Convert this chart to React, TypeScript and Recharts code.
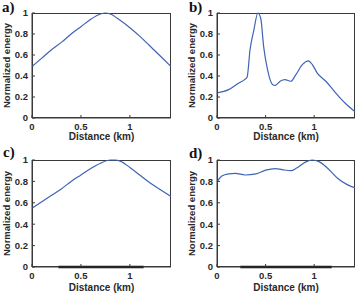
import { Line, LineChart, XAxis, YAxis } from 'recharts'

// panel a
const distA = [0, 0.1, 0.2, 0.3, 0.4, 0.5, 0.6, 0.7, 0.75, 0.8, 0.9, 1.0, 1.1, 1.2, 1.3, 1.42]
const energyA = [0.49, 0.57, 0.65, 0.72, 0.8, 0.87, 0.94, 0.99, 1.0, 0.99, 0.93, 0.86, 0.78, 0.69, 0.6, 0.49]

// panel b
const distB = [0, 0.12, 0.22, 0.29, 0.31, 0.34, 0.38, 0.42, 0.45, 0.48, 0.52, 0.57, 0.6, 0.65, 0.7, 0.76, 0.81, 0.88, 0.94, 0.98, 1.03, 1.12, 1.22, 1.32, 1.42]
const energyB = [0.24, 0.27, 0.33, 0.37, 0.39, 0.65, 0.84, 1.0, 0.95, 0.68, 0.46, 0.32, 0.31, 0.35, 0.365, 0.35, 0.41, 0.51, 0.545, 0.51, 0.43, 0.35, 0.24, 0.14, 0.06]

// panel c
const distC = [0, 0.1, 0.2, 0.3, 0.4, 0.5, 0.6, 0.7, 0.8, 0.85, 0.9, 1.0, 1.1, 1.2, 1.3, 1.42]
const energyC = [0.55, 0.61, 0.67, 0.73, 0.8, 0.86, 0.92, 0.97, 1.0, 1.0, 0.99, 0.93, 0.86, 0.79, 0.73, 0.66]

// panel d
const distD = [0, 0.05, 0.12, 0.19, 0.29, 0.4, 0.5, 0.6, 0.67, 0.76, 0.82, 0.91, 0.98, 1.05, 1.13, 1.24, 1.34, 1.42]
const energyD = [0.795, 0.85, 0.87, 0.875, 0.86, 0.87, 0.905, 0.92, 0.91, 0.9, 0.925, 0.98, 1.0, 0.985, 0.93, 0.83, 0.77, 0.74]

// dark segment on the bottom axis of c and d
const sourceC = [0.27, 1.14]
const sourceD = [0.24, 1.18]

const xTicks = [0, 0.5, 1]
const yTicks = [0, 0.2, 0.4, 0.6, 0.8, 1]
const X_MAX = 1.42

const zip = (xs: number[], ys: number[]) => xs.map((x, i) => ({ x, y: ys[i] }))

const FONT = '"Liberation Sans", Arial, sans-serif'
const FRAME = '#3a3a3a'
const frameLine = { stroke: FRAME, strokeWidth: 1 }
const tickStyle = { fill: '#2a2a2a', fontSize: 9.5, fontWeight: 700, fontFamily: FONT }

type PanelProps = {
	left: number
	top: number
	width: number
	height: number
	marginTop: number
	marginRight: number
	axisWidth: number
	axisHeight: number
	yLabelX: number
	xLabelY: number
	points: { x: number; y: number }[]
	source?: number[]
}

function Panel(p: PanelProps) {
	const plotLeft = p.axisWidth
	const plotRight = p.width - p.marginRight
	const plotTop = p.marginTop
	const plotBottom = p.height - p.axisHeight
	return (
		<div style={{ position: 'absolute', left: p.left, top: p.top, width: p.width, height: p.height }}>
			{/* box round the plot area, under the chart */}
			<div
				style={{
					position: 'absolute',
					left: plotLeft,
					top: plotTop,
					width: plotRight - plotLeft,
					height: plotBottom - plotTop,
					border: `1px solid ${FRAME}`,
					boxSizing: 'border-box',
				}}
			/>
			<LineChart
				width={p.width}
				height={p.height}
				data={p.points}
				margin={{ top: p.marginTop, right: p.marginRight, bottom: 0, left: 0 }}
			>
				<XAxis
					dataKey='x'
					type='number'
					domain={[0, X_MAX]}
					ticks={xTicks}
					allowDataOverflow
					height={p.axisHeight}
					axisLine={frameLine}
					tickLine={frameLine}
					tickSize={-3}
					tick={tickStyle}
					tickMargin={8}
					label={{
						content: () => (
							<text
								x={(plotLeft + plotRight) / 2}
								y={p.xLabelY}
								textAnchor='middle'
								fill='#2a2a2a'
								fontSize={10}
								fontWeight={700}
								fontFamily={FONT}
							>
								Distance (km)
							</text>
						),
					}}
				/>
				<YAxis
					type='number'
					domain={[0, 1]}
					ticks={yTicks}
					width={p.axisWidth}
					axisLine={frameLine}
					tickLine={frameLine}
					tickSize={-3}
					tick={tickStyle}
					tickMargin={7}
					label={{
						content: () => {
							const cy = (plotTop + plotBottom) / 2
							return (
								<text
									x={p.yLabelX}
									y={cy}
									dy='0.35em'
									transform={`rotate(-90, ${p.yLabelX}, ${cy})`}
									textAnchor='middle'
									fill='#2a2a2a'
									fontSize={9.5}
									fontWeight={700}
									fontFamily={FONT}
								>
									Normalized energy
								</text>
							)
						},
					}}
				/>
				{p.source && (
					<Line
						data={p.source.map((x) => ({ x, y: 0 }))}
						dataKey='y'
						stroke='#111'
						strokeWidth={2.5}
						dot={false}
						isAnimationActive={false}
					/>
				)}
				<Line
					dataKey='y'
					type='monotone'
					stroke='#3e64b3'
					strokeWidth={1.2}
					dot={false}
					isAnimationActive={false}
				/>
			</LineChart>
		</div>
	)
}

const tagStyle = {
	position: 'absolute' as const,
	fontFamily: '"Liberation Serif", "Times New Roman", serif',
	fontWeight: 700,
	fontSize: 15,
	lineHeight: '15px',
	color: '#111',
}

export default function App() {
	return (
		<div style={{ position: 'absolute', left: 0, top: 0, width: 357, height: 293, background: '#fff', overflow: 'hidden' }}>
			<Panel left={0} top={0} width={178} height={146} marginTop={13} marginRight={7} axisWidth={32} axisHeight={28} yLabelX={7} xLabelY={140} points={zip(distA, energyA)} />
			<Panel left={178} top={0} width={179} height={146} marginTop={13} marginRight={2} axisWidth={39} axisHeight={28} yLabelX={14} xLabelY={140} points={zip(distB, energyB)} />
			<Panel left={0} top={146} width={178} height={147} marginTop={14} marginRight={7} axisWidth={32} axisHeight={26} yLabelX={7} xLabelY={145} points={zip(distC, energyC)} source={sourceC} />
			<Panel left={178} top={146} width={179} height={147} marginTop={14} marginRight={2} axisWidth={39} axisHeight={26} yLabelX={14} xLabelY={145} points={zip(distD, energyD)} source={sourceD} />
			<div style={{ ...tagStyle, left: 2, top: 0 }}>a)</div>
			<div style={{ ...tagStyle, left: 189, top: 0 }}>b)</div>
			<div style={{ ...tagStyle, left: 3, top: 145 }}>c)</div>
			<div style={{ ...tagStyle, left: 189, top: 146 }}>d)</div>
		</div>
	)
}
